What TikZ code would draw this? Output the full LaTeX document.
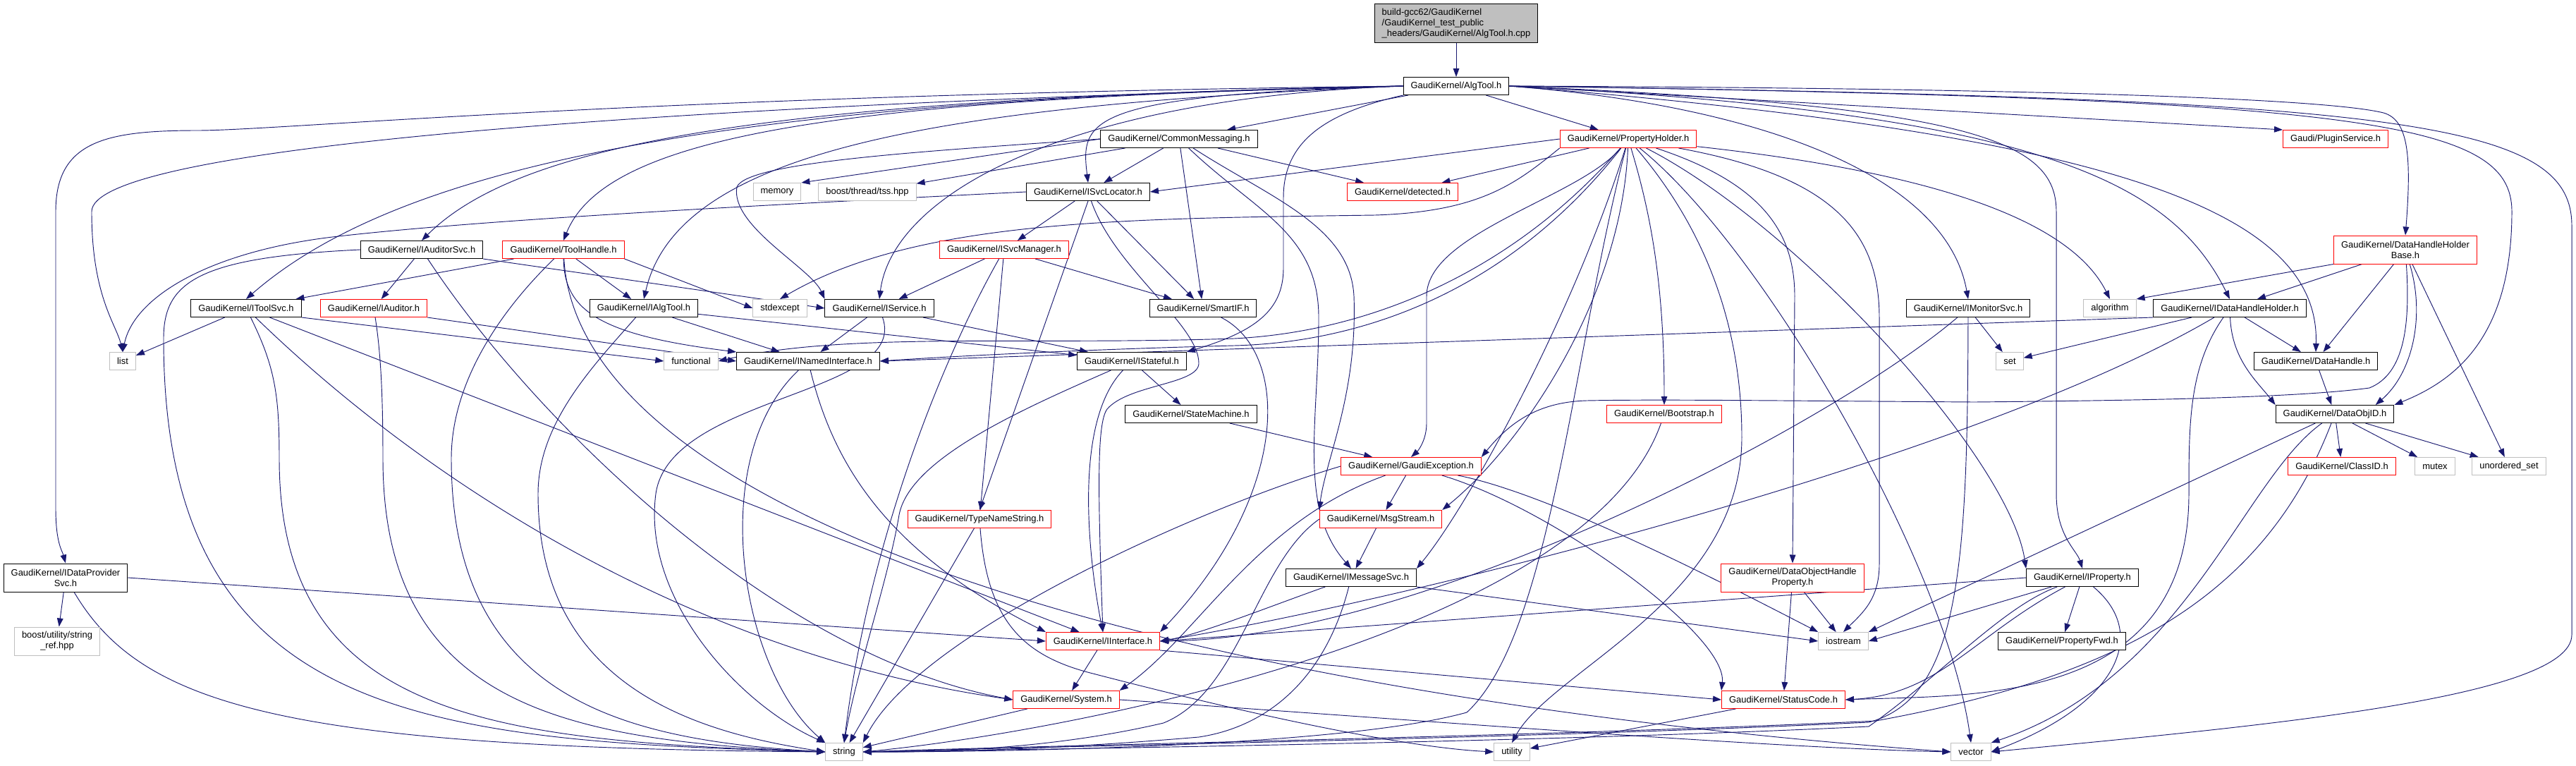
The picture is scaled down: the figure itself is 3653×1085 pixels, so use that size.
\documentclass[tikz,border=0pt]{standalone}
\usepackage{fontspec}
\setmainfont{Liberation Sans}
\usetikzlibrary{arrows.meta,backgrounds}

\definecolor{edgeblue}{HTML}{191970}
\definecolor{rootgray}{HTML}{BFBFBF}
\definecolor{sysgray}{HTML}{BFBFBF}
\newcommand{\hdrfont}{\fontsize{9.7pt}{11.25pt}\selectfont}

\begin{document}
\begin{tikzpicture}[x=0.75pt, y=-0.75pt, >={Triangle[length=9pt,width=6.5pt]},
	hdr/.style={draw=black, fill=white, line width=0.75pt, font=\hdrfont, inner xsep=7.9pt, inner ysep=1pt, minimum height=18.75pt},
	redhdr/.style={hdr, draw=red},
	syshdr/.style={hdr, draw=sysgray},
	twoline/.style={align=center, minimum height=30pt},
	dep/.style={->, draw=edgeblue, line width=0.7pt}]

	\useasboundingbox (0,0) rectangle (3653,1085);

	% Nodes, row by row
	\node [hdr, fill=rootgray, align=left, minimum height=41.25pt] (root) at (2065,33) {build-gcc62/GaudiKernel\\/GaudiKernel\_test\_public\\\_headers/GaudiKernel/AlgTool.h.cpp};
	\node [hdr]    (algtool)     at (2065,122) {GaudiKernel/AlgTool.h};

	\node [hdr]    (cmsg)        at (1672,197) {GaudiKernel/CommonMessaging.h};
	\node [redhdr] (propholder)  at (2309,197) {GaudiKernel/PropertyHolder.h};
	\node [redhdr] (pluginsvc)   at (3312,197) {Gaudi/PluginService.h};

	\node [syshdr] (memory)      at (1102,272) {memory};
	\node [syshdr] (tss)         at (1230,272) {boost/thread/tss.hpp};
	\node [hdr]    (isvclocator) at (1543,272) {GaudiKernel/ISvcLocator.h};
	\node [redhdr] (detected)    at (1989,272) {GaudiKernel/detected.h};

	\node [hdr]    (iauditorsvc) at (598,354)  {GaudiKernel/IAuditorSvc.h};
	\node [redhdr] (toolhandle)  at (799,354)  {GaudiKernel/ToolHandle.h};
	\node [redhdr] (isvcmanager) at (1424,354) {GaudiKernel/ISvcManager.h};
	\node [redhdr, twoline] (dhhb) at (3411,354) {GaudiKernel/DataHandleHolder\\Base.h};

	\node [hdr]    (itoolsvc)    at (349,437)  {GaudiKernel/IToolSvc.h};
	\node [redhdr] (iauditor)    at (530,437)  {GaudiKernel/IAuditor.h};
	\node [hdr]    (ialgtool)    at (913,437)  {GaudiKernel/IAlgTool.h};
	\node [syshdr] (stdexcept)   at (1106,437) {stdexcept};
	\node [hdr]    (iservice)    at (1247,437) {GaudiKernel/IService.h};
	\node [hdr]    (smartif)     at (1706,437) {GaudiKernel/SmartIF.h};
	\node [hdr]    (imonitorsvc) at (2791,437) {GaudiKernel/IMonitorSvc.h};
	\node [syshdr] (algorithm)   at (2992,437) {algorithm};
	\node [hdr]    (idhh)        at (3162,437) {GaudiKernel/IDataHandleHolder.h};

	\node [syshdr] (list)        at (174,512)  {list};
	\node [syshdr] (functional)  at (980,512)  {functional};
	\node [hdr]    (inamedif)    at (1146,512) {GaudiKernel/INamedInterface.h};
	\node [hdr]    (istateful)   at (1605,512) {GaudiKernel/IStateful.h};
	\node [syshdr] (set)         at (2850,512) {set};
	\node [hdr]    (datahandle)  at (3284,512) {GaudiKernel/DataHandle.h};

	\node [hdr]    (statemachine) at (1689,587) {GaudiKernel/StateMachine.h};
	\node [redhdr] (bootstrap)   at (2360,587) {GaudiKernel/Bootstrap.h};
	\node [hdr]    (dataobjid)   at (3311,587) {GaudiKernel/DataObjID.h};

	\node [redhdr] (gaudiexc)    at (2001,661) {GaudiKernel/GaudiException.h};
	\node [redhdr] (classid)     at (3321,661) {GaudiKernel/ClassID.h};
	\node [syshdr] (mutex)       at (3453,661) {mutex};
	\node [syshdr] (uset)        at (3558,661) {unordered\_set};

	\node [redhdr] (typenamestr) at (1389,736) {GaudiKernel/TypeNameString.h};
	\node [redhdr] (msgstream)   at (1958,736) {GaudiKernel/MsgStream.h};

	\node [hdr, twoline] (idataprov) at (93,819) {GaudiKernel/IDataProvider\\Svc.h};
	\node [hdr]    (imsgsvc)     at (1916,819) {GaudiKernel/IMessageSvc.h};
	\node [redhdr, twoline] (dohp) at (2542,819) {GaudiKernel/DataObjectHandle\\Property.h};
	\node [hdr]    (iproperty)   at (2953,819) {GaudiKernel/IProperty.h};

	\node [syshdr, twoline] (stringref) at (81,909) {boost/utility/string\\\_ref.hpp};
	\node [redhdr] (iinterface)  at (1564,909) {GaudiKernel/IInterface.h};
	\node [syshdr] (iostream)    at (2614,909) {iostream};
	\node [hdr]    (propfwd)     at (2924,909) {GaudiKernel/PropertyFwd.h};

	\node [redhdr] (system)      at (1512,992) {GaudiKernel/System.h};
	\node [redhdr] (statuscode)  at (2529,992) {GaudiKernel/StatusCode.h};

	\node [syshdr] (string)      at (1197,1066) {string};
	\node [syshdr] (utility)     at (2144,1066) {utility};
	\node [syshdr] (vector)      at (2795,1066) {vector};

	% Include edges, behind the boxes
	\begin{scope}[on background layer]
	\fill [white] (0,0) rectangle (3653,1085);

	% root
	\draw [dep] (root) -- (algtool);

	% AlgTool.h
	\draw [dep] (algtool) -- (cmsg);
	\draw [dep] (algtool) -- (propholder);
	\draw [dep] (algtool.east) -- (pluginsvc.north west);
	\draw [dep] (algtool.east) .. controls (2900,125) and (3300,140) .. (3380,160) .. controls (3415,170) and (3420,220) .. (dhhb.north);
	\draw [dep] (algtool.east) .. controls (2900,160) and (3080,260) .. (idhh.north);
	\draw [dep] (algtool.east) .. controls (3000,190) and (3290,300) .. (datahandle.north);
	\draw [dep] (algtool.east) .. controls (3350,140) and (3562,170) .. (3562,300) .. controls (3562,480) and (3480,540) .. (dataobjid.north east);
	\draw [dep] (algtool.east) .. controls (3400,140) and (3647,170) .. (3647,320) -- (3647,900) .. controls (3647,990) and (3200,1030) .. (vector.east);
	\draw [dep] (algtool.east) .. controls (2800,150) and (2916,200) .. (2916,300) -- (2916,700) .. controls (2916,760) and (2945,780) .. (iproperty.north);
	\draw [dep] (algtool.east) .. controls (2500,150) and (2760,250) .. (imonitorsvc.north);
	\draw [dep] (algtool.south west) .. controls (1880,160) and (1820,200) .. (1820,280) -- (1820,380) .. controls (1820,440) and (1780,470) .. (istateful.north east);
	\draw [dep] (algtool.west) .. controls (1500,140) and (1265,280) .. (iservice.north);
	\draw [dep] (algtool.west) .. controls (1540,135) and (1532,170) .. (isvclocator.north);
	\draw [dep] (algtool.west) .. controls (1300,150) and (960,220) .. (ialgtool.north);
	\draw [dep] (algtool.west) .. controls (1200,140) and (860,190) .. (toolhandle.north);
	\draw [dep] (algtool.west) .. controls (1100,140) and (740,200) .. (iauditorsvc.north);
	\draw [dep] (algtool.west) .. controls (1000,140) and (560,240) .. (itoolsvc.north);
	\draw [dep] (algtool.west) .. controls (900,150) and (130,210) .. (130,300) .. controls (130,420) and (165,460) .. (list.north);
	\draw [dep] (algtool.west) .. controls (900,135) and (400,185) .. (280,185) .. controls (150,185) and (79,200) .. (79,300) -- (79,720) .. controls (79,770) and (88,780) .. (idataprov.north);

	% CommonMessaging.h
	\draw [dep] (cmsg.west) -- (memory.north east);
	\draw [dep] (cmsg) -- (tss);
	\draw [dep] (cmsg) -- (isvclocator);
	\draw [dep] (cmsg) -- (detected);
	\draw [dep] (cmsg.west) .. controls (1300,215) and (1060,230) .. (1045,265) .. controls (1035,320) and (1150,380) .. (iservice.north west);
	\draw [dep] (cmsg) -- (smartif);
	\draw [dep] (cmsg) .. controls (1800,280) and (1915,320) .. (1920,420) .. controls (1925,560) and (1880,650) .. (msgstream.north west);
	\draw [dep] (cmsg) .. controls (1780,300) and (1870,330) .. (1870,450) .. controls (1870,600) and (1840,720) .. (imsgsvc.north);

	% PropertyHolder.h
	\draw [dep] (propholder) -- (detected);
	\draw [dep] (propholder.west) -- (isvclocator.east);
	\draw [dep] (propholder.south west) .. controls (2150,260) and (2100,300) .. (1950,305) .. controls (1600,310) and (1300,310) .. (stdexcept.north);
	\draw [dep] (propholder) .. controls (2150,380) and (1950,470) .. (1750,480) .. controls (1450,490) and (1200,470) .. (functional.east);
	\draw [dep] (propholder) .. controls (2150,400) and (1950,485) .. (1750,490) .. controls (1550,495) and (1350,505) .. (inamedif.east);
	\draw [dep] (propholder) .. controls (2240,280) and (2023,330) .. (2023,420) -- (2023,600) .. controls (2023,625) and (2010,640) .. (gaudiexc.north);
	\draw [dep] (propholder) .. controls (2340,300) and (2360,400) .. (bootstrap.north);
	\draw [dep] (propholder) .. controls (2300,420) and (2160,630) .. (msgstream.north east);
	\draw [dep] (propholder) .. controls (2230,450) and (2080,720) .. (imsgsvc.north east);
	\draw [dep] (propholder) .. controls (2500,260) and (2545,330) .. (2545,420) -- (dohp.north);
	\draw [dep] (propholder) .. controls (2600,250) and (2665,330) .. (2665,450) -- (2665,800) .. controls (2665,850) and (2640,870) .. (iostream.north);
	\draw [dep] (propholder) .. controls (2550,320) and (2850,650) .. (iproperty.north west);
	\draw [dep] (propholder) .. controls (2700,240) and (2930,300) .. (algorithm.north);
	\draw [dep] (propholder) .. controls (2230,500) and (2200,900) .. (2080,1010) .. controls (1900,1060) and (1400,1066) .. (string.east);
	\draw [dep] (propholder) .. controls (2440,350) and (2470,500) .. (2470,620) .. controls (2470,850) and (2200,950) .. (utility.north);
	\draw [dep] (propholder) .. controls (2500,350) and (2760,800) .. (vector.north);

	% ISvcLocator.h
	\draw [dep] (isvclocator.west) .. controls (1100,290) and (700,310) .. (480,335) .. controls (300,355) and (190,420) .. (list.north);
	\draw [dep] (isvclocator) -- (isvcmanager);
	\draw [dep] (isvclocator.south) -- (typenamestr.north);
	\draw [dep] (isvclocator) -- (smartif);
	\draw [dep] (isvclocator) .. controls (1580,380) and (1700,460) .. (1700,515) .. controls (1700,545) and (1600,545) .. (1570,580) .. controls (1555,600) and (1557,700) .. (iinterface.north);

	% ISvcManager.h
	\draw [dep] (isvcmanager) -- (iservice);
	\draw [dep] (isvcmanager) -- (smartif);
	\draw [dep] (isvcmanager) -- (typenamestr);
	\draw [dep] (isvcmanager) .. controls (1330,520) and (1230,780) .. (string.north);

	% IAuditorSvc.h
	\draw [dep] (iauditorsvc) -- (iauditor);
	\draw [dep] (iauditorsvc.south east) -- (iservice.west);
	\draw [dep] (iauditorsvc.west) .. controls (280,365) and (232,400) .. (232,480) .. controls (232,1020) and (600,1050) .. (string.west);
	\draw [dep] (iauditorsvc) .. controls (760,600) and (1100,930) .. (system.west);

	% ToolHandle.h
	\draw [dep] (toolhandle) -- (itoolsvc);
	\draw [dep] (toolhandle) -- (ialgtool);
	\draw [dep] (toolhandle.south east) -- (stdexcept.west);
	\draw [dep] (toolhandle) .. controls (800,440) and (850,475) .. (inamedif.north west);
	\draw [dep] (toolhandle) .. controls (700,450) and (640,550) .. (640,650) .. controls (640,1000) and (900,1050) .. (string.west);
	\draw [dep] (toolhandle) .. controls (820,720) and (1600,980) .. (vector.west);

	% IToolSvc.h
	\draw [dep] (itoolsvc) -- (list);
	\draw [dep] (itoolsvc.south east) -- (functional.west);
	\draw [dep] (itoolsvc) .. controls (390,520) and (396,560) .. (396,650) .. controls (396,1020) and (700,1050) .. (string.west);
	\draw [dep] (itoolsvc) -- (iinterface);
	\draw [dep] (itoolsvc) .. controls (620,700) and (1000,930) .. (system.west);

	% IAuditor.h
	\draw [dep] (iauditor.south east) -- (inamedif.west);
	\draw [dep] (iauditor) .. controls (540,500) and (543,560) .. (543,650) .. controls (543,1000) and (800,1050) .. (string.west);

	% IAlgTool.h
	\draw [dep] (ialgtool) -- (inamedif);
	\draw [dep] (ialgtool) -- (istateful);
	\draw [dep] (ialgtool) .. controls (840,520) and (763,600) .. (763,700) .. controls (763,980) and (1000,1040) .. (string.west);

	% IService.h
	\draw [dep] (iservice) -- (inamedif);
	\draw [dep] (iservice) -- (istateful);
	\draw [dep] (iservice) .. controls (1290,560) and (950,560) .. (930,700) .. controls (910,850) and (1050,1000) .. (string.north west);

	% INamedInterface.h
	\draw [dep] (inamedif) .. controls (1180,650) and (1250,780) .. (iinterface.north west);
	\draw [dep] (inamedif) .. controls (1000,650) and (1050,950) .. (string.north west);

	% IStateful.h
	\draw [dep] (istateful) -- (statemachine);
	\draw [dep] (istateful) .. controls (1520,600) and (1545,800) .. (iinterface.north);
	\draw [dep] (istateful) .. controls (1450,580) and (1290,650) .. (1275,730) .. controls (1260,820) and (1215,950) .. (string.north);

	% SmartIF.h, StateMachine.h
	\draw [dep] (smartif) .. controls (1830,500) and (1830,700) .. (iinterface.north east);
	\draw [dep] (statemachine) -- (gaudiexc);

	% GaudiException.h
	\draw [dep] (gaudiexc) -- (msgstream);
	\draw [dep] (gaudiexc) .. controls (2200,720) and (2450,900) .. (statuscode.north west);
	\draw [dep] (gaudiexc) .. controls (2200,700) and (2450,830) .. (iostream.north west);
	\draw [dep] (gaudiexc.west) .. controls (1700,720) and (1300,900) .. (string.north east);
	\draw [dep] (gaudiexc) .. controls (1780,740) and (1700,900) .. (system.north east);

	% Bootstrap.h, MsgStream.h, IMessageSvc.h
	\draw [dep] (bootstrap) .. controls (2250,900) and (1500,1040) .. (string.east);
	\draw [dep] (msgstream) -- (imsgsvc);
	\draw [dep] (msgstream.west) .. controls (1780,800) and (1760,980) .. (1650,1025) .. controls (1500,1060) and (1350,1066) .. (string.east);
	\draw [dep] (imsgsvc) .. controls (1800,860) and (1700,900) .. (iinterface.east);
	\draw [dep] (imsgsvc.south east) -- (iostream.west);
	\draw [dep] (imsgsvc) .. controls (1880,960) and (1800,1030) .. (1700,1045) .. controls (1500,1062) and (1350,1066) .. (string.east);

	% TypeNameString.h, IDataProviderSvc.h
	\draw [dep] (typenamestr) -- (string);
	\draw [dep] (typenamestr) .. controls (1400,880) and (1450,930) .. (1550,955) .. controls (1800,1020) and (2000,1060) .. (utility.west);
	\draw [dep] (idataprov) -- (stringref);
	\draw [dep] (idataprov.east) -- (iinterface.west);
	\draw [dep] (idataprov) .. controls (200,1000) and (400,1060) .. (string.west);

	% IInterface.h, System.h, StatusCode.h
	\draw [dep] (iinterface) -- (system);
	\draw [dep] (iinterface.south east) -- (statuscode.west);
	\draw [dep] (system) -- (string);
	\draw [dep] (system.east) .. controls (2000,1020) and (2500,1060) .. (vector.west);
	\draw [dep] (statuscode) -- (utility);

	% DataObjectHandleProperty.h
	\draw [dep] (dohp) -- (statuscode);
	\draw [dep] (dohp) -- (iostream);

	% IProperty.h
	\draw [dep] (iproperty) -- (propfwd);
	\draw [dep] (iproperty.west) -- (iinterface.east);
	\draw [dep] (iproperty) -- (iostream.east);
	\draw [dep] (iproperty) .. controls (2800,900) and (2750,985) .. (statuscode.east);
	\draw [dep] (iproperty) .. controls (2840,860) and (2750,960) .. (2650,1030) .. controls (2200,1052) and (1500,1062) .. (string.east);
	\draw [dep] (iproperty) .. controls (3050,900) and (3000,1000) .. (vector.east);

	% IMonitorSvc.h
	\draw [dep] (imonitorsvc) -- (set);
	\draw [dep] (imonitorsvc) .. controls (2600,600) and (2020,905) .. (iinterface.east);
	\draw [dep] (imonitorsvc) .. controls (2790,800) and (2780,990) .. (2650,1024) .. controls (2200,1046) and (1500,1058) .. (string.east);

	% IDataHandleHolder.h
	\draw [dep] (idhh) -- (set);
	\draw [dep] (idhh) -- (datahandle);
	\draw [dep] (idhh) .. controls (3165,510) and (3200,540) .. (dataobjid.north west);
	\draw [dep] (idhh.south west) -- (inamedif.east);
	\draw [dep] (idhh) .. controls (2800,650) and (2000,850) .. (iinterface.east);
	\draw [dep] (idhh) .. controls (3104,520) and (3104,600) .. (3104,700) .. controls (3104,1000) and (2800,985) .. (statuscode.east);

	% DataHandle.h, DataObjID.h
	\draw [dep] (datahandle) -- (dataobjid);
	\draw [dep] (dataobjid) -- (classid);
	\draw [dep] (dataobjid) -- (mutex);
	\draw [dep] (dataobjid) -- (uset);
	\draw [dep] (dataobjid) -- (iostream.north east);
	\draw [dep] (dataobjid) .. controls (3180,680) and (3100,960) .. (vector.north east);
	\draw [dep] (dataobjid) .. controls (3210,850) and (3000,960) .. (2660,1022) .. controls (2200,1044) and (1500,1056) .. (string.east);

	% DataHandleHolderBase.h
	\draw [dep] (dhhb.south west) -- (algorithm.north east);
	\draw [dep] (dhhb) -- (idhh);
	\draw [dep] (dhhb) -- (datahandle);
	\draw [dep] (dhhb) .. controls (3440,450) and (3420,530) .. ([xshift=-20pt]dataobjid.north east);
	\draw [dep] (dhhb) -- (uset);
	\draw [dep] (dhhb) .. controls (3418,460) and (3410,530) .. (3360,550) .. controls (3250,565) and (3000,568) .. (2800,570) .. controls (2500,568) and (2350,566) .. (2250,568) .. controls (2180,570) and (2140,600) .. (gaudiexc.north east);
	\end{scope}
\end{tikzpicture}
\end{document}
